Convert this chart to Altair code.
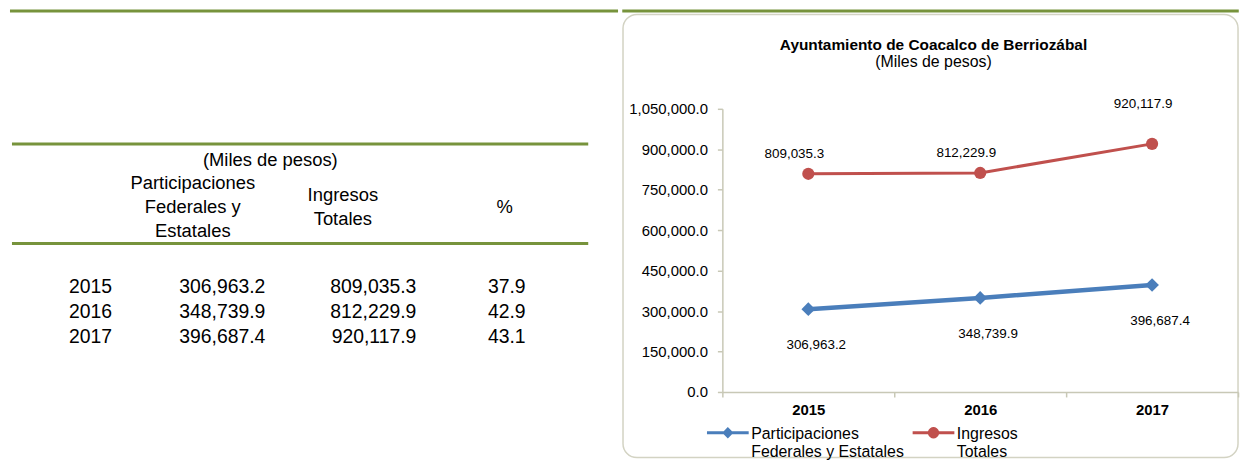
import altair as alt
import numpy as np
import pandas as pd

# ---------------- data ----------------
years = ["2015", "2016", "2017"]
participaciones = [306963.2, 348739.9, 396687.4]
ingresos = [809035.3, 812229.9, 920117.9]
porcentaje = [37.9, 42.9, 43.1]

series_names = ["Participaciones Federales y Estatales", "Ingresos Totales"]
legend_lines = [["Participaciones", "Federales y Estatales"], ["Ingresos", "Totales"]]
y_ticks = [0, 150000, 300000, 450000, 600000, 750000, 900000, 1050000]
y_domain = [0, 1050000]

chart_title = "Ayuntamiento de Coacalco de Berriozábal"
chart_subtitle = "(Miles de pesos)"
table_units = "(Miles de pesos)"
table_headers = ["Participaciones\nFederales y\nEstatales", "Ingresos\nTotales", "%"]

# ---------------- style ----------------
BLUE = "#4A7EBB"
RED = "#C0504D"
GREEN = "#77933C"
AXIS_GRAY = "#C8C8B6"
FRAME_GRAY = "#D3D3C3"
FONT = "Liberation Sans"
INK = "#000000"

# ---------------- table (left) ----------------
# the origin of both panels sits 100px below the top of the picture
row_keys = ["units", "s1", "header", "s2", "s3"] + years
row_scale = alt.Scale(type="point", domain=row_keys, range=[52, 229.8], padding=0)
Yrow = alt.Y("row:N", scale=row_scale, axis=None)

TW, TH = 612, 350

page_rule = alt.Chart(pd.DataFrame({"k": [0]})).mark_rule(
    color=GREEN, strokeWidth=3
).encode(x=alt.value(0), x2=alt.value(TW), y=alt.value(-98.5))

rule_top = alt.Chart(pd.DataFrame({"row": ["units"]})).mark_rule(
    color=GREEN, strokeWidth=3, yOffset=-16.5
).encode(y=Yrow, x=alt.value(2), x2=alt.value(582))

rule_mid = alt.Chart(pd.DataFrame({"row": ["s2"]})).mark_rule(
    color=GREEN, strokeWidth=3, yOffset=7.3
).encode(y=Yrow, x=alt.value(2), x2=alt.value(582))

units_txt = alt.Chart(pd.DataFrame({"row": ["units"], "t": [table_units]})).mark_text(
    font=FONT, fontSize=18.5, color=INK, align="center", baseline="middle"
).encode(y=Yrow, x=alt.value(262), text="t:N")

header_x = [184, 335, 498]
header_layers = []
for h, hx in zip(table_headers, header_x):
    n_lines = h.count("\n") + 1
    header_layers.append(
        alt.Chart(pd.DataFrame({"row": ["header"], "t": [h]})).mark_text(
            font=FONT, fontSize=18.5, color=INK, align="center", baseline="middle",
            lineBreak="\n", lineHeight=24, dy=-4 - (n_lines - 1) * 12
        ).encode(y=Yrow, x=alt.value(hx), text="t:N")
    )

tbl = pd.DataFrame({"row": years, "part": participaciones, "ing": ingresos, "pct": porcentaje})

year_txt = alt.Chart(tbl).mark_text(
    font=FONT, fontSize=19.5, color=INK, align="center", baseline="middle"
).encode(y=Yrow, x=alt.value(81), text="row:N")

col_right = {"part": 257, "ing": 409, "pct": 519}
val_layers = []
for col, xr in col_right.items():
    val_layers.append(
        alt.Chart(tbl).mark_text(
            font=FONT, fontSize=19.5, color=INK, align="right", baseline="middle"
        ).encode(y=Yrow, x=alt.value(xr), text=alt.Text(f"{col}:Q", format=",.1f"))
    )

left = alt.layer(
    page_rule, rule_top, rule_mid, units_txt, *header_layers, year_txt, *val_layers
).properties(width=TW, height=TH)

# ---------------- line chart (right) ----------------
df = pd.DataFrame({
    "year": years * 2,
    "series": [series_names[0]] * 3 + [series_names[1]] * 3,
    "value": participaciones + ingresos,
})

PW, PH = 519, 285

x_enc = alt.X(
    "year:N",
    scale=alt.Scale(type="band", domain=years, paddingInner=0, paddingOuter=0),
    axis=alt.Axis(
        title=None, labelAngle=0, labelFont=FONT, labelFontSize=15, labelFontWeight="bold",
        labelColor=INK, domainColor=AXIS_GRAY, domainWidth=1.5, tickColor=AXIS_GRAY,
        tickWidth=1.5, tickSize=5, tickBand="extent", labelPadding=6, grid=False, zindex=1,
    ),
)
y_enc = alt.Y(
    "value:Q",
    scale=alt.Scale(domain=y_domain, nice=False, zero=True),
    axis=alt.Axis(
        title=None, values=y_ticks, format=",.1f", labelFont=FONT, labelFontSize=15,
        labelColor=INK, domainColor=AXIS_GRAY, domainWidth=1.5, tickColor=AXIS_GRAY,
        tickWidth=1.5, tickSize=5, labelPadding=10, grid=False, zindex=1,
    ),
)

base = alt.Chart(df).encode(x=x_enc, y=y_enc)
is_blue = alt.datum.series == series_names[0]
is_red = alt.datum.series == series_names[1]

frame = alt.Chart(pd.DataFrame({"k": [0]})).mark_rect(
    cornerRadius=14, fill="white", stroke=FRAME_GRAY, strokeWidth=1.5
).encode(x=alt.value(-100), x2=alt.value(PW), y=alt.value(-95), y2=alt.value(PH + 66))

top_rule = alt.Chart(pd.DataFrame({"k": [0]})).mark_rule(
    color=GREEN, strokeWidth=3
).encode(x=alt.value(-100.75), x2=alt.value(PW + 0.75), y=alt.value(-98.5))

blue_line = base.transform_filter(is_blue).mark_line(color=BLUE, strokeWidth=4.5)
red_line = base.transform_filter(is_red).mark_line(color=RED, strokeWidth=3)
blue_pts = base.transform_filter(is_blue).mark_point(
    shape="diamond", filled=True, size=190, color=BLUE, opacity=1
)
red_pts = base.transform_filter(is_red).mark_point(
    shape="circle", filled=True, size=150, color=RED, opacity=1
)

lbl = dict(font=FONT, fontSize=13.5, color=INK, align="center", baseline="middle")
blue_lbl = base.transform_filter(is_blue).mark_text(dx=8, dy=36, **lbl).encode(
    text=alt.Text("value:Q", format=",.1f"))
red_lbl = base.transform_filter(is_red).transform_filter(alt.datum.year != "2017").mark_text(
    dx=-14, dy=-20, **lbl).encode(text=alt.Text("value:Q", format=",.1f"))
red_lbl_last = base.transform_filter(is_red).transform_filter(alt.datum.year == "2017").mark_text(
    dx=-9, dy=-40, **lbl).encode(text=alt.Text("value:Q", format=",.1f"))


def circle_path(cx, cy, r, n=20):
    pts = [(cx + r * np.cos(2 * np.pi * i / n), cy + r * np.sin(2 * np.pi * i / n)) for i in range(n)]
    return "M" + "L".join(f"{a:.3f},{b:.3f}" for a, b in pts) + "Z"


sy = 0.3
blue_sym = f"M-1,{sy}H1M-0.17,{sy}L0,{sy - 0.17}L0.17,{sy}L0,{sy + 0.17}Z"
red_sym = f"M-1,{sy}H1" + circle_path(0, sy, 0.2)

label_expr = " : ".join(
    f"datum.label == '{n}' ? {lines!r}" for n, lines in zip(series_names[:-1], legend_lines[:-1])
) + f" : {legend_lines[-1]!r}"

leg = alt.Legend(
    title=None, orient="none", legendX=-17, legendY=297, direction="horizontal",
    symbolSize=1764, symbolStrokeWidth=3, symbolOpacity=1, labelFont=FONT, labelFontSize=16,
    labelColor=INK, labelOffset=1, columnPadding=2, padding=0, labelLimit=400,
    labelExpr=label_expr, labelBaseline="top",
)
legend_layer = base.transform_filter("false").mark_point(filled=True, opacity=1, strokeWidth=3).encode(
    fill=alt.Fill("series:N", scale=alt.Scale(domain=series_names, range=[BLUE, RED]), legend=leg),
    stroke=alt.Stroke("series:N", scale=alt.Scale(domain=series_names, range=[BLUE, RED]), legend=leg),
    shape=alt.Shape("series:N", scale=alt.Scale(domain=series_names, range=[blue_sym, red_sym]), legend=leg),
)

right = alt.layer(
    top_rule, frame, red_line, blue_line, red_pts, blue_pts, blue_lbl, red_lbl, red_lbl_last, legend_layer
).properties(
    width=PW, height=PH,
    title=alt.Title(
        text=chart_title, subtitle=chart_subtitle, frame="group", anchor="middle", dx=-47,
        offset=-61, font=FONT, fontSize=15.5, fontWeight="bold", color=INK,
        subtitleFont=FONT, subtitleFontSize=16, subtitleColor=INK, subtitlePadding=1,
    ),
)

chart = (
    alt.hconcat(left, right, spacing=0)
    .resolve_scale(fill="independent", stroke="independent", shape="independent")
    .resolve_legend(fill="independent", stroke="independent", shape="independent")
    .properties(padding=0)
    .configure_view(stroke=None)
)

chart.save("out.html", embed_options={"renderer": "svg", "actions": False})
